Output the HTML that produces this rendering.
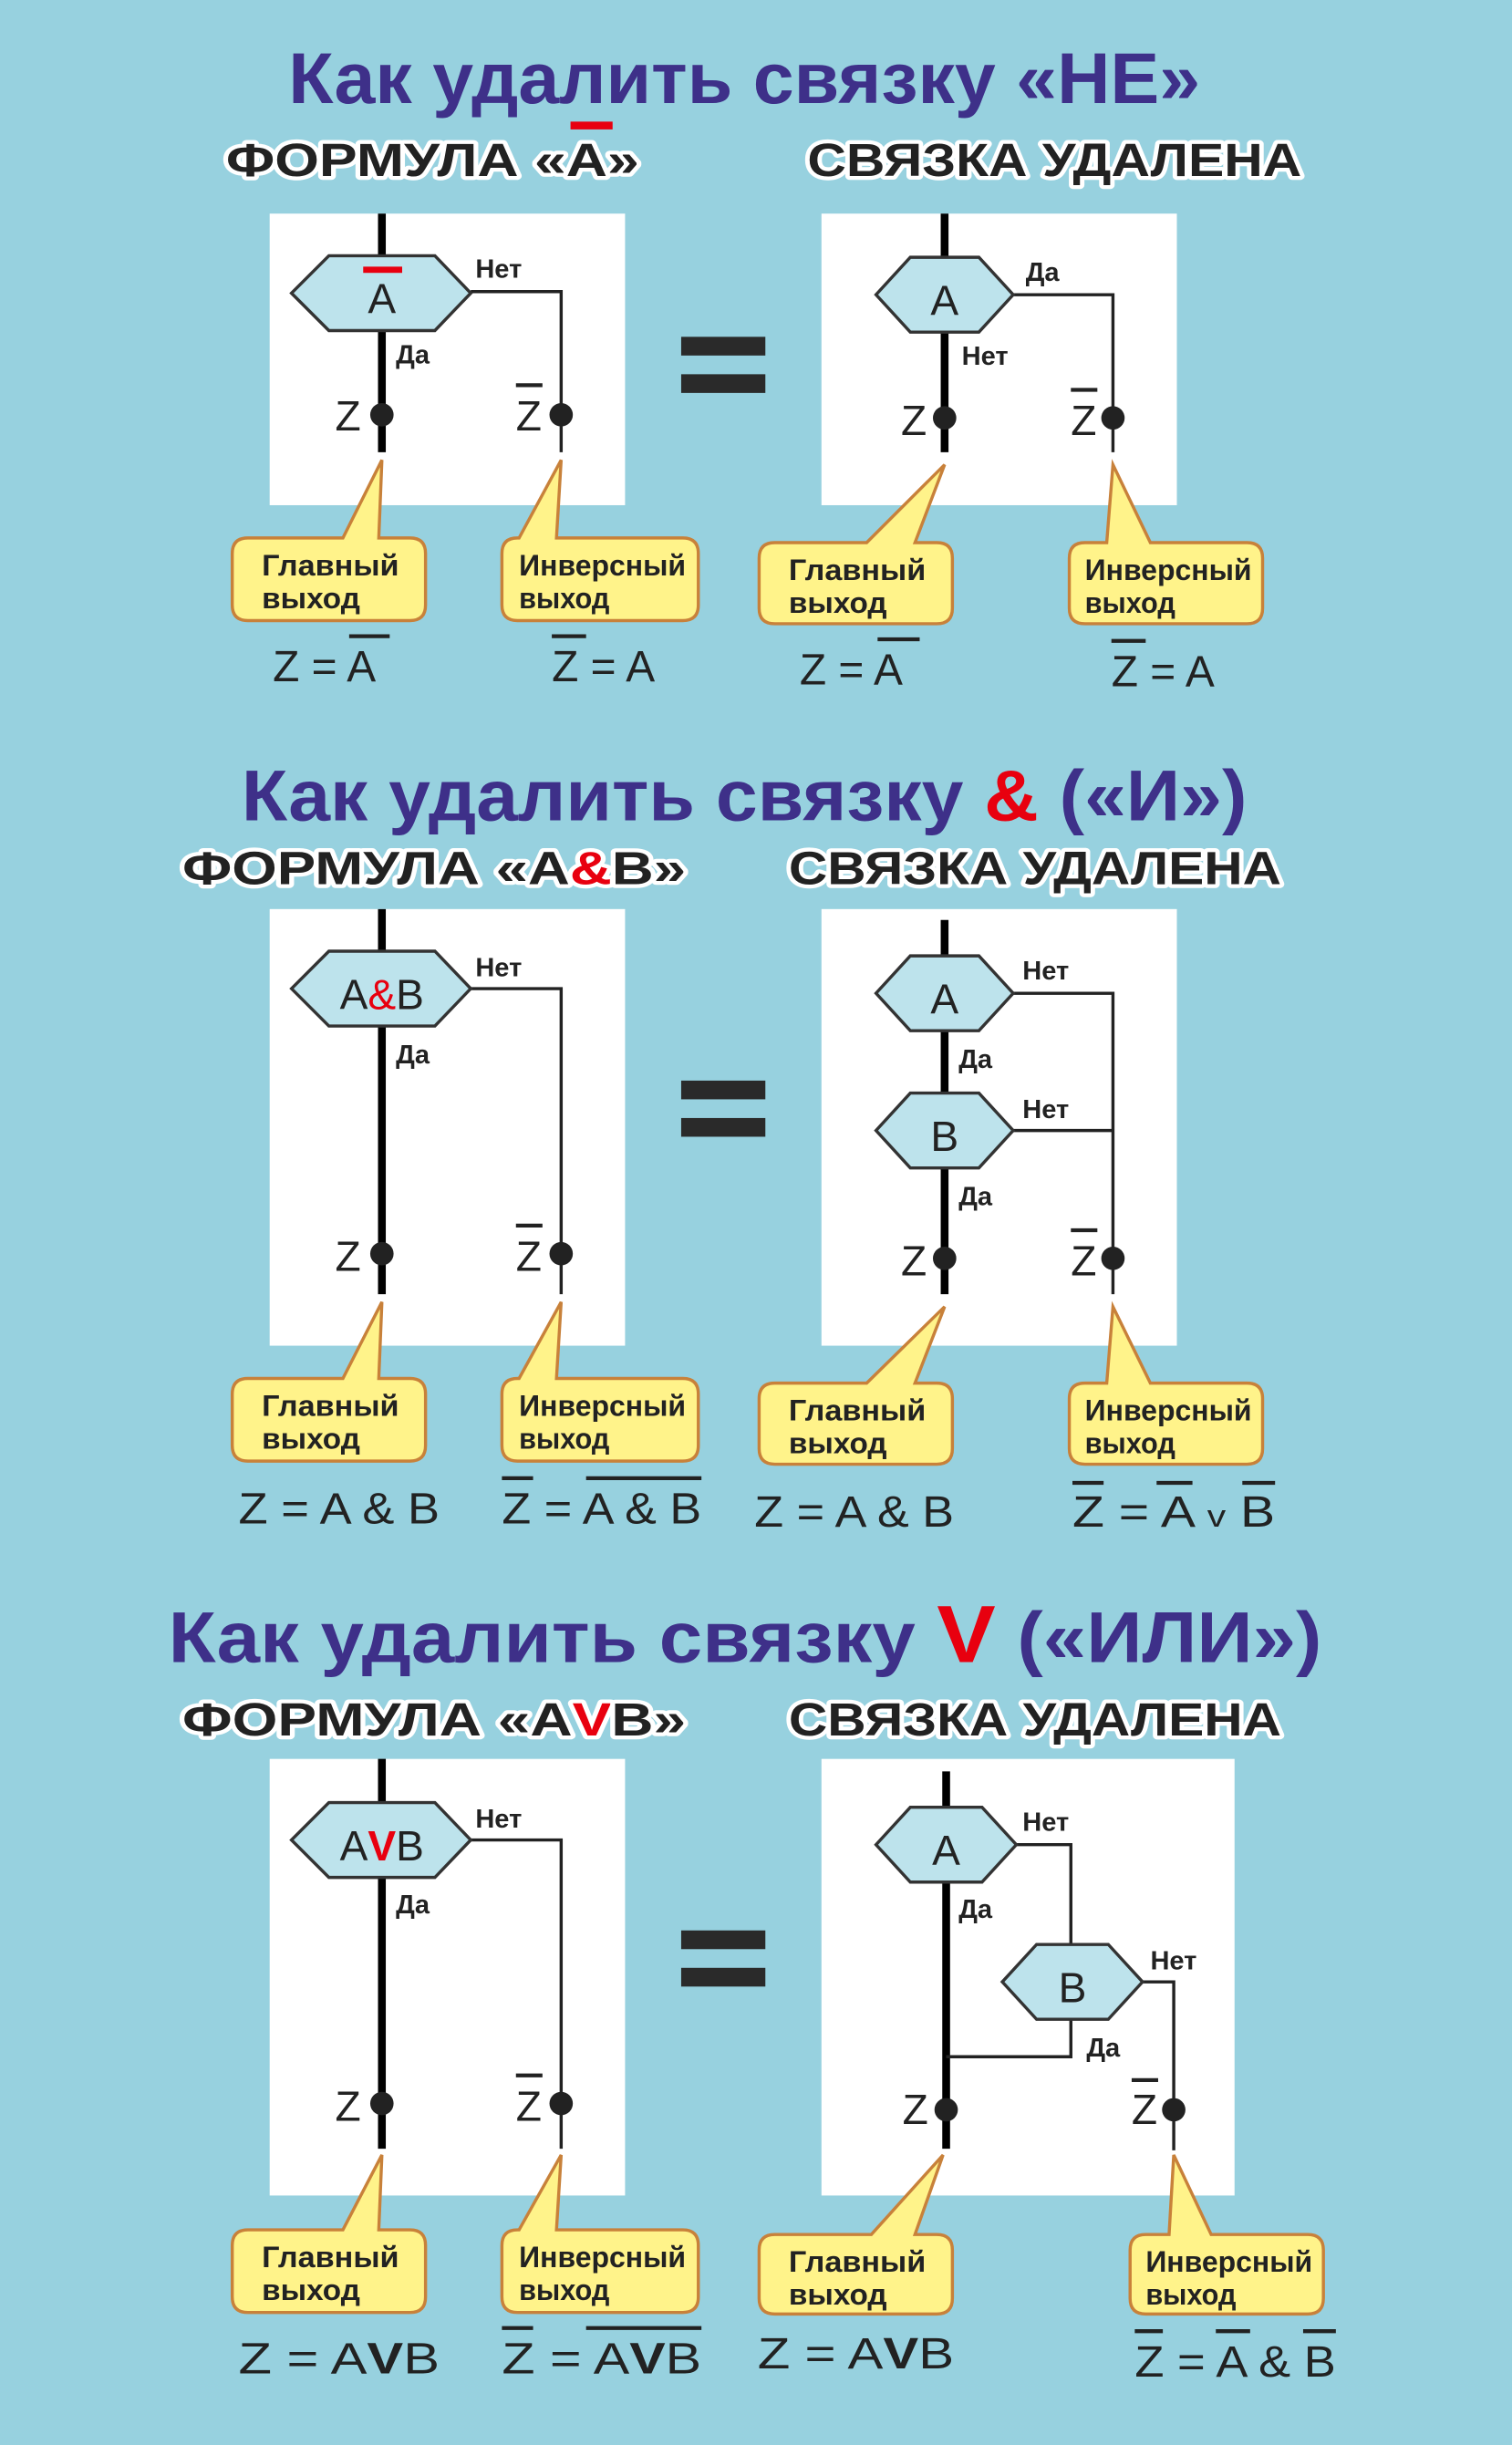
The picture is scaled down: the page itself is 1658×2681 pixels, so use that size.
<!DOCTYPE html>
<html><head><meta charset="utf-8"><style>
html,body{margin:0;padding:0;background:#97d1df;}
svg{display:block;}
.t{font-family:"Liberation Sans",sans-serif;font-weight:bold;fill:#3e3089;font-size:46px;}
.s{font-family:"Liberation Sans",sans-serif;font-weight:bold;fill:#222;font-size:30px;stroke:#fff;stroke-width:5px;paint-order:stroke;stroke-linejoin:round;}
.h{font-family:"Liberation Sans",sans-serif;fill:#222;font-size:27px;text-anchor:middle;}
.l{font-family:"Liberation Sans",sans-serif;font-weight:bold;fill:#222;font-size:17px;}
.z{font-family:"Liberation Sans",sans-serif;fill:#222;font-size:27px;}
.c{font-family:"Liberation Sans",sans-serif;font-weight:bold;fill:#222;font-size:19px;}
.f{font-family:"Liberation Sans",sans-serif;fill:#222;font-size:28px;}
.hex{fill:#bde3ec;stroke:#333;stroke-width:2;}
.cal{fill:#fff38a;stroke:#c8813a;stroke-width:2;}
.thin{stroke:#222;stroke-width:2;fill:none;}
.thick{stroke:#000;stroke-width:5;}
.ob{stroke:#222;stroke-width:2.5;}
.r{fill:#e8000f;}
</style></head><body>
<svg width="1658" height="2681" viewBox="0 0 970 1568" preserveAspectRatio="none" xmlns="http://www.w3.org/2000/svg">
<rect width="970" height="1568" fill="#97d1df"/>

<!-- ===== Section 1 ===== -->
<text class="t" x="185" y="66" textLength="585" lengthAdjust="spacingAndGlyphs">Как удалить связку «НЕ»</text>
<text class="s" x="145" y="113" textLength="265" lengthAdjust="spacingAndGlyphs">ФОРМУЛА «А»</text>
<rect x="366" y="78" width="27" height="5" class="r"/>
<text class="s" x="518" y="113" textLength="317" lengthAdjust="spacingAndGlyphs">СВЯЗКА УДАЛЕНА</text>

<rect x="173" y="137" width="228" height="187" fill="#fff"/>
<rect x="527" y="137" width="228" height="187" fill="#fff"/>
<rect x="437" y="216" width="54" height="12" fill="#2a2a2a"/>
<rect x="437" y="240" width="54" height="12" fill="#2a2a2a"/>

<!-- left -->
<line x1="245" y1="137" x2="245" y2="290" class="thick"/>
<polyline points="302,187 360,187 360,290" class="thin"/>
<polygon points="187,188 211,164 279,164 302,188 279,212 211,212" class="hex"/>
<text class="h" x="245" y="201">A</text>
<rect x="233" y="171" width="25" height="4" class="r"/>
<text class="l" x="305" y="178">Нет</text>
<text class="l" x="254" y="233">Да</text>
<text class="z" x="215" y="276">Z</text><circle cx="245" cy="266" r="7.5" fill="#222"/>
<text class="z" x="331" y="276">Z</text><line x1="331" y1="247" x2="348" y2="247" class="ob"/><circle cx="360" cy="266" r="7.5" fill="#222"/>
<!-- right -->
<line x1="606" y1="137" x2="606" y2="290" class="thick"/>
<polyline points="650,189 714,189 714,290" class="thin"/>
<polygon points="562,189 584,165 628,165 650,189 628,213 584,213" class="hex"/>
<text class="h" x="606" y="202">A</text>
<text class="l" x="658" y="180">Да</text>
<text class="l" x="617" y="234">Нет</text>
<text class="z" x="578" y="279">Z</text><circle cx="606" cy="268" r="7.5" fill="#222"/>
<text class="z" x="687" y="279">Z</text><line x1="687" y1="250" x2="704" y2="250" class="ob"/><circle cx="714" cy="268" r="7.5" fill="#222"/>

<path class="cal" d="M159,345 H220 L245,295 L243,345 H263 Q273,345 273,355 V388 Q273,398 263,398 H159 Q149,398 149,388 V355 Q149,345 159,345 Z"/>
<path class="cal" d="M332,345 H333 L360,295 L357,345 H438 Q448,345 448,355 V388 Q448,398 438,398 H332 Q322,398 322,388 V355 Q322,345 332,345 Z"/>
<path class="cal" d="M497,348 H556 L606,298 L587,348 H601 Q611,348 611,358 V390 Q611,400 601,400 H497 Q487,400 487,390 V358 Q487,348 497,348 Z"/>
<path class="cal" d="M696,348 H710 L714,298 L738,348 H800 Q810,348 810,358 V390 Q810,400 800,400 H696 Q686,400 686,390 V358 Q686,348 696,348 Z"/>
<text class="c" x="168" y="369" textLength="88" lengthAdjust="spacingAndGlyphs">Главный</text>
<text class="c" x="168" y="390" textLength="63" lengthAdjust="spacingAndGlyphs">выход</text>
<text class="c" x="333" y="369" textLength="107" lengthAdjust="spacingAndGlyphs">Инверсный</text>
<text class="c" x="333" y="390" textLength="58" lengthAdjust="spacingAndGlyphs">выход</text>
<text class="c" x="506" y="372" textLength="88" lengthAdjust="spacingAndGlyphs">Главный</text>
<text class="c" x="506" y="393" textLength="63" lengthAdjust="spacingAndGlyphs">выход</text>
<text class="c" x="696" y="372" textLength="107" lengthAdjust="spacingAndGlyphs">Инверсный</text>
<text class="c" x="696" y="393" textLength="58" lengthAdjust="spacingAndGlyphs">выход</text>

<text class="f" x="175" y="437">Z = A</text><line x1="224" y1="408" x2="250" y2="408" class="ob"/>
<text class="f" x="354" y="437">Z = A</text><line x1="354" y1="408" x2="376" y2="408" class="ob"/>
<text class="f" x="513" y="439">Z = A</text><line x1="563" y1="410" x2="590" y2="410" class="ob"/>
<text class="f" x="713" y="440">Z = A</text><line x1="713" y1="411" x2="735" y2="411" class="ob"/>

<!-- ===== Section 2 ===== -->
<text class="t" x="155" y="526" textLength="645" lengthAdjust="spacingAndGlyphs">Как удалить связку <tspan fill="#e8000f">&amp;</tspan> («И»)</text>
<text class="s" x="117" y="567" textLength="323" lengthAdjust="spacingAndGlyphs">ФОРМУЛА «А<tspan fill="#e8000f">&amp;</tspan>В»</text>
<text class="s" x="506" y="567" textLength="316" lengthAdjust="spacingAndGlyphs">СВЯЗКА УДАЛЕНА</text>

<rect x="173" y="583" width="228" height="280" fill="#fff"/>
<rect x="527" y="583" width="228" height="280" fill="#fff"/>
<rect x="437" y="693" width="54" height="12" fill="#2a2a2a"/>
<rect x="437" y="717" width="54" height="12" fill="#2a2a2a"/>

<line x1="245" y1="583" x2="245" y2="830" class="thick"/>
<polyline points="302,634 360,634 360,830" class="thin"/>
<polygon points="187,634 211,610 279,610 302,634 279,658 211,658" class="hex"/>
<text class="h" x="245" y="647">A<tspan fill="#e8000f">&amp;</tspan>B</text>
<text class="l" x="305" y="626">Нет</text>
<text class="l" x="254" y="682">Да</text>
<text class="z" x="215" y="815">Z</text><circle cx="245" cy="804" r="7.5" fill="#222"/>
<text class="z" x="331" y="815">Z</text><line x1="331" y1="786" x2="348" y2="786" class="ob"/><circle cx="360" cy="804" r="7.5" fill="#222"/>

<line x1="606" y1="590" x2="606" y2="830" class="thick"/>
<polyline points="650,637 714,637 714,830" class="thin"/>
<line x1="650" y1="725" x2="714" y2="725" class="thin"/>
<polygon points="562,637 584,613 628,613 650,637 628,661 584,661" class="hex"/>
<polygon points="562,725 584,701 628,701 650,725 628,749 584,749" class="hex"/>
<text class="h" x="606" y="650">A</text>
<text class="h" x="606" y="738">B</text>
<text class="l" x="656" y="628">Нет</text>
<text class="l" x="615" y="685">Да</text>
<text class="l" x="656" y="717">Нет</text>
<text class="l" x="615" y="773">Да</text>
<text class="z" x="578" y="818">Z</text><circle cx="606" cy="807" r="7.5" fill="#222"/>
<text class="z" x="687" y="818">Z</text><line x1="687" y1="789" x2="704" y2="789" class="ob"/><circle cx="714" cy="807" r="7.5" fill="#222"/>

<path class="cal" d="M159,884 H220 L245,835 L243,884 H263 Q273,884 273,894 V927 Q273,937 263,937 H159 Q149,937 149,927 V894 Q149,884 159,884 Z"/>
<path class="cal" d="M332,884 H333 L360,835 L357,884 H438 Q448,884 448,894 V927 Q448,937 438,937 H332 Q322,937 322,927 V894 Q322,884 332,884 Z"/>
<path class="cal" d="M497,887 H556 L606,838 L587,887 H601 Q611,887 611,897 V929 Q611,939 601,939 H497 Q487,939 487,929 V897 Q487,887 497,887 Z"/>
<path class="cal" d="M696,887 H710 L714,838 L738,887 H800 Q810,887 810,897 V929 Q810,939 800,939 H696 Q686,939 686,929 V897 Q686,887 696,887 Z"/>
<text class="c" x="168" y="908" textLength="88" lengthAdjust="spacingAndGlyphs">Главный</text>
<text class="c" x="168" y="929" textLength="63" lengthAdjust="spacingAndGlyphs">выход</text>
<text class="c" x="333" y="908" textLength="107" lengthAdjust="spacingAndGlyphs">Инверсный</text>
<text class="c" x="333" y="929" textLength="58" lengthAdjust="spacingAndGlyphs">выход</text>
<text class="c" x="506" y="911" textLength="88" lengthAdjust="spacingAndGlyphs">Главный</text>
<text class="c" x="506" y="932" textLength="63" lengthAdjust="spacingAndGlyphs">выход</text>
<text class="c" x="696" y="911" textLength="107" lengthAdjust="spacingAndGlyphs">Инверсный</text>
<text class="c" x="696" y="932" textLength="58" lengthAdjust="spacingAndGlyphs">выход</text>

<text class="f" x="153" y="977" textLength="129" lengthAdjust="spacingAndGlyphs">Z = A &amp; B</text>
<text class="f" x="322" y="977" textLength="128" lengthAdjust="spacingAndGlyphs">Z = A &amp; B</text>
<line x1="322" y1="948" x2="342" y2="948" class="ob"/><line x1="376" y1="948" x2="450" y2="948" class="ob"/>
<text class="f" x="484" y="979" textLength="128" lengthAdjust="spacingAndGlyphs">Z = A &amp; B</text>
<text class="f" x="688" y="979" textLength="130" lengthAdjust="spacingAndGlyphs">Z = A <tspan font-size="20">v</tspan> B</text>
<line x1="688" y1="951" x2="708" y2="951" class="ob"/><line x1="742" y1="951" x2="765" y2="951" class="ob"/><line x1="797" y1="951" x2="818" y2="951" class="ob"/>

<!-- ===== Section 3 ===== -->
<text class="t" x="108" y="1066" textLength="740" lengthAdjust="spacingAndGlyphs">Как удалить связку <tspan fill="#e8000f" font-size="52">V</tspan> («ИЛИ»)</text>
<text class="s" x="117" y="1113" textLength="323" lengthAdjust="spacingAndGlyphs">ФОРМУЛА «А<tspan fill="#e8000f">V</tspan>В»</text>
<text class="s" x="506" y="1113" textLength="316" lengthAdjust="spacingAndGlyphs">СВЯЗКА УДАЛЕНА</text>

<rect x="173" y="1128" width="228" height="280" fill="#fff"/>
<rect x="527" y="1128" width="265" height="280" fill="#fff"/>
<rect x="437" y="1238" width="54" height="12" fill="#2a2a2a"/>
<rect x="437" y="1262" width="54" height="12" fill="#2a2a2a"/>

<line x1="245" y1="1128" x2="245" y2="1378" class="thick"/>
<polyline points="302,1180 360,1180 360,1378" class="thin"/>
<polygon points="187,1180 211,1156 279,1156 302,1180 279,1204 211,1204" class="hex"/>
<text class="h" x="245" y="1193">A<tspan fill="#e8000f" font-weight="bold">V</tspan>B</text>
<text class="l" x="305" y="1172">Нет</text>
<text class="l" x="254" y="1227">Да</text>
<text class="z" x="215" y="1360">Z</text><circle cx="245" cy="1349" r="7.5" fill="#222"/>
<text class="z" x="331" y="1360">Z</text><line x1="331" y1="1331" x2="348" y2="1331" class="ob"/><circle cx="360" cy="1349" r="7.5" fill="#222"/>

<line x1="607" y1="1136" x2="607" y2="1378" class="thick"/>
<polyline points="652,1183 687,1183 687,1247" class="thin"/>
<polyline points="687,1295 687,1319 607,1319" class="thin"/>
<polyline points="733,1271 753,1271 753,1379" class="thin"/>
<polygon points="562,1183 584,1159 630,1159 652,1183 630,1207 584,1207" class="hex"/>
<polygon points="643,1271 665,1247 711,1247 733,1271 711,1295 665,1295" class="hex"/>
<text class="h" x="607" y="1196">A</text>
<text class="h" x="688" y="1284">B</text>
<text class="l" x="656" y="1174">Нет</text>
<text class="l" x="615" y="1230">Да</text>
<text class="l" x="738" y="1263">Нет</text>
<text class="l" x="697" y="1319">Да</text>
<text class="z" x="579" y="1362">Z</text><circle cx="607" cy="1353" r="7.5" fill="#222"/>
<text class="z" x="726" y="1362">Z</text><line x1="726" y1="1334" x2="743" y2="1334" class="ob"/><circle cx="753" cy="1353" r="7.5" fill="#222"/>

<path class="cal" d="M159,1430 H220 L245,1382 L243,1430 H263 Q273,1430 273,1440 V1473 Q273,1483 263,1483 H159 Q149,1483 149,1473 V1440 Q149,1430 159,1430 Z"/>
<path class="cal" d="M332,1430 H333 L360,1382 L357,1430 H438 Q448,1430 448,1440 V1473 Q448,1483 438,1483 H332 Q322,1483 322,1473 V1440 Q322,1430 332,1430 Z"/>
<path class="cal" d="M497,1433 H559 L605,1382 L587,1433 H601 Q611,1433 611,1443 V1474 Q611,1484 601,1484 H497 Q487,1484 487,1474 V1443 Q487,1433 497,1433 Z"/>
<path class="cal" d="M735,1433 H750 L753,1382 L777,1433 H839 Q849,1433 849,1443 V1474 Q849,1484 839,1484 H735 Q725,1484 725,1474 V1443 Q725,1433 735,1433 Z"/>
<text class="c" x="168" y="1454" textLength="88" lengthAdjust="spacingAndGlyphs">Главный</text>
<text class="c" x="168" y="1475" textLength="63" lengthAdjust="spacingAndGlyphs">выход</text>
<text class="c" x="333" y="1454" textLength="107" lengthAdjust="spacingAndGlyphs">Инверсный</text>
<text class="c" x="333" y="1475" textLength="58" lengthAdjust="spacingAndGlyphs">выход</text>
<text class="c" x="506" y="1457" textLength="88" lengthAdjust="spacingAndGlyphs">Главный</text>
<text class="c" x="506" y="1478" textLength="63" lengthAdjust="spacingAndGlyphs">выход</text>
<text class="c" x="735" y="1457" textLength="107" lengthAdjust="spacingAndGlyphs">Инверсный</text>
<text class="c" x="735" y="1478" textLength="58" lengthAdjust="spacingAndGlyphs">выход</text>

<text class="f" x="153" y="1522" textLength="129" lengthAdjust="spacingAndGlyphs">Z = A<tspan font-weight="bold">V</tspan>B</text>
<text class="f" x="322" y="1522" textLength="128" lengthAdjust="spacingAndGlyphs">Z = A<tspan font-weight="bold">V</tspan>B</text>
<line x1="322" y1="1493" x2="342" y2="1493" class="ob"/><line x1="376" y1="1493" x2="450" y2="1493" class="ob"/>
<text class="f" x="486" y="1519" textLength="126" lengthAdjust="spacingAndGlyphs">Z = A<tspan font-weight="bold">V</tspan>B</text>
<text class="f" x="728" y="1524" textLength="129" lengthAdjust="spacingAndGlyphs">Z = A &amp; B</text>
<line x1="728" y1="1495" x2="746" y2="1495" class="ob"/><line x1="780" y1="1495" x2="802" y2="1495" class="ob"/><line x1="836" y1="1495" x2="857" y2="1495" class="ob"/>
</svg>
</body></html>
